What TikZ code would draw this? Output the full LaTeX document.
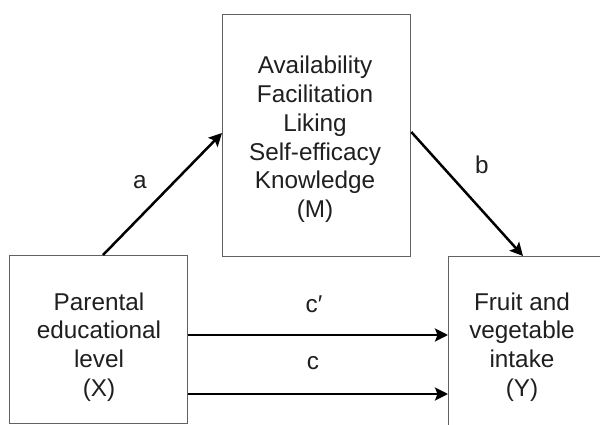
\documentclass[tikz,border=0pt]{standalone}
\usepackage{fontspec}
\setmainfont{Liberation Sans}
\usetikzlibrary{arrows.meta,calc}
\tikzset{
  box/.style={draw=black!62, line width=1.3pt, fill=none, inner sep=0pt},
  txt/.style={align=center, text=black!88, font=\fontsize{24.3}{28.8}\selectfont, inner sep=0pt},
  lab/.style={text=black!88, font=\fontsize{24.3}{28}\selectfont, inner sep=0pt},
  arr/.style={line width=2.5pt, -{Stealth[length=13pt,width=13pt,inset=2.5pt]}}
}
\begin{document}
\begin{tikzpicture}[x=1pt,y=-1pt]
\useasboundingbox (0,0) rectangle (600,425);
\clip (0,0) rectangle (600,425);
\fill[white] (0,0) rectangle (600,425);
% boxes
\node[box, minimum width=178pt, minimum height=168pt, anchor=north west] (X) at (9,255) {};
\node[box, minimum width=188pt, minimum height=242pt, anchor=north west] (M) at (222,14) {};
\node[box, minimum width=200pt, minimum height=200pt, anchor=north west] (Y) at (448,256) {};
% texts
\node[txt] (Xt) at (99,347) {Parental\\educational\\level\\(X)};
\node[txt] (Mt) at (315,139.5) {Availability\\Facilitation\\Liking\\Self-efficacy\\Knowledge\\(M)};
\node[txt] (Yt) at (522,347) {Fruit and\\vegetable\\intake\\(Y)};
% arrows
\draw[arr] ($(X.north west)+(94,0)$) -- ($(M.north west)+(0,119)$);
\draw[arr] ($(M.north east)+(0,118)$) -- ($(Y.north west)+(75,0)$);
\draw[arr] ($(X.north east)+(0,80)$) -- ($(Y.north west)+(0,79)$);
\draw[arr] ($(X.north east)+(0,139)$) -- ($(Y.north west)+(0,138)$);
% labels
\node[lab] (la) at (140,182) {a};
\node[lab] (lb) at (482,165) {b};
\node[lab] (lcp) at (314,304) {c′};
\node[lab] (lc) at (313,363) {c};
\end{tikzpicture}
\end{document}
